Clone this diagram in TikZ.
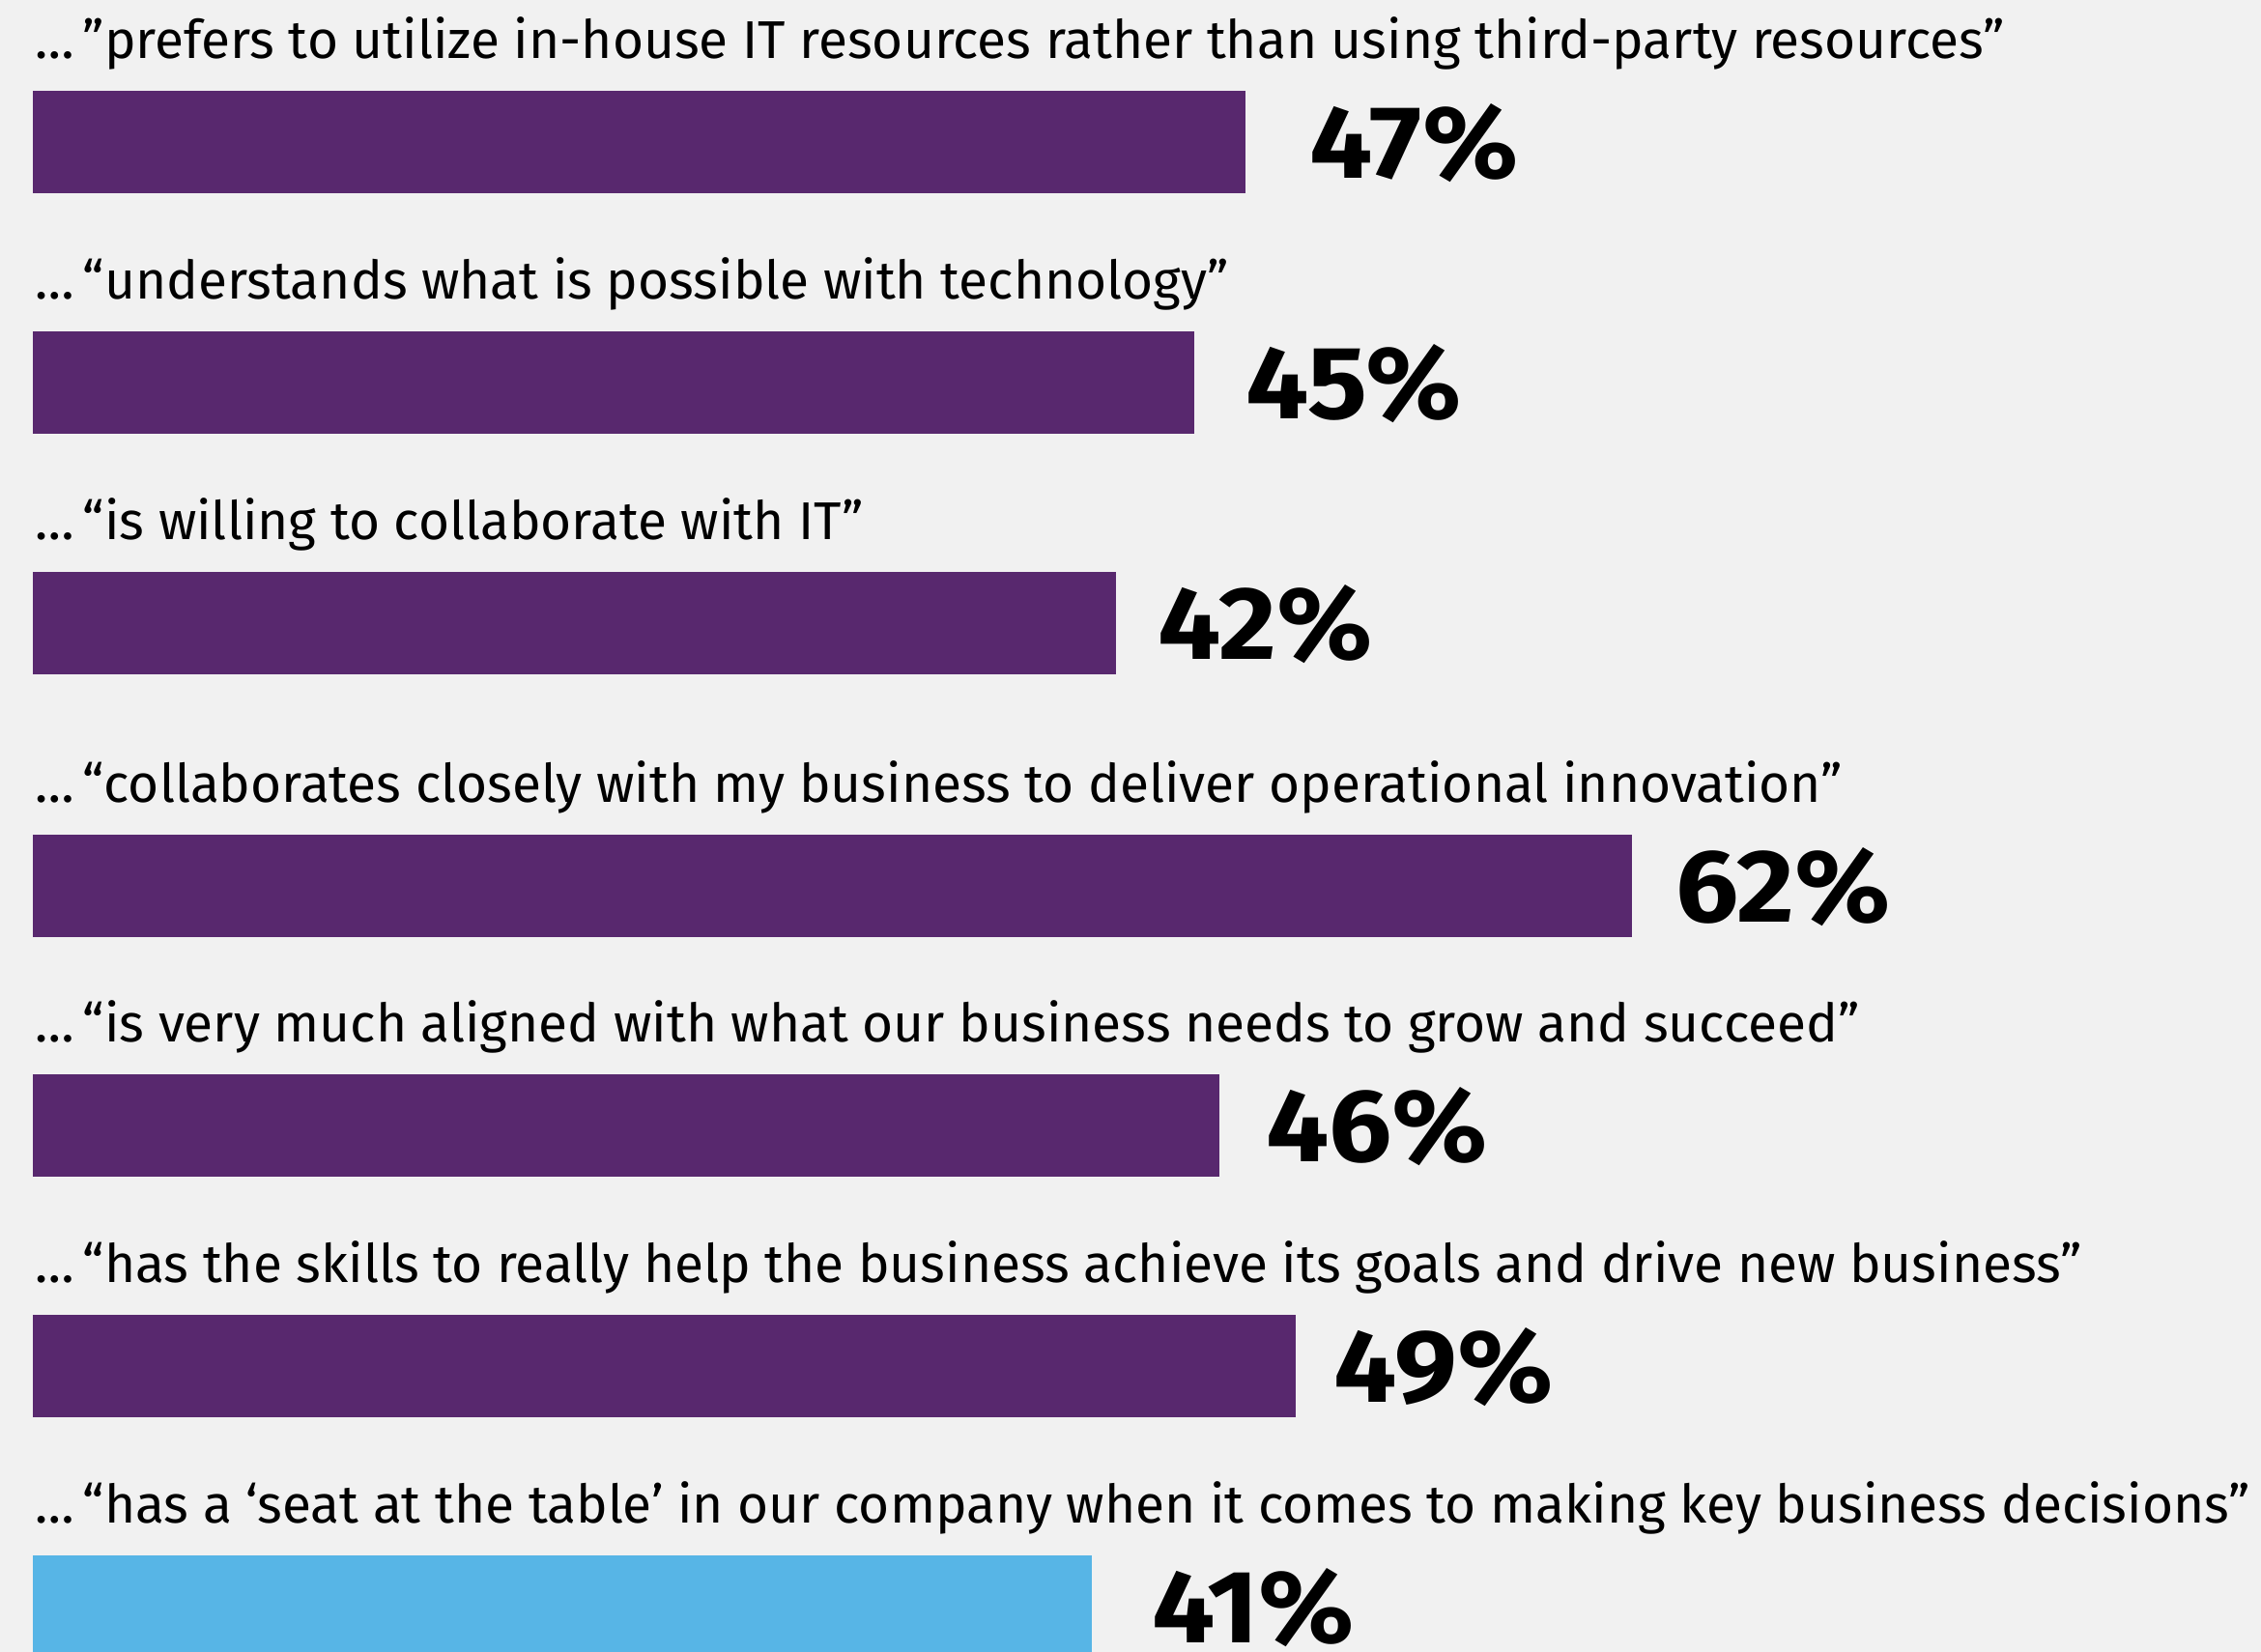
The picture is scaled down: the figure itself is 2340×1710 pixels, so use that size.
\documentclass[tikz,border=0pt]{standalone}
\usepackage{fontspec}
\setmainfont{Fira Sans}
\definecolor{bgc}{HTML}{F1F1F1}
\definecolor{purp}{HTML}{58286E}
\definecolor{sky}{HTML}{57B5E6}
\newcommand{\pctxt}[1]{\scalebox{1.08}[1]{#1}}
\begin{document}
\begin{tikzpicture}[x=1pt,y=-1pt,
  barbox/.style={fill=purp, draw=none, inner sep=0pt, outer sep=0pt, minimum height=106pt, anchor=north west},
  quote/.style={anchor=base west, inner sep=0pt, font=\fontsize{55}{60}\selectfont},
  pct/.style={anchor=base west, inner sep=0pt, font=\fontsize{107}{110}\selectfont\bfseries}]
\fill[bgc] (0,0) rectangle (2340,1710);
\useasboundingbox (0,0) rectangle (2340,1710);
\clip (0,0) rectangle (2340,1710);
% row 1
\node[quote] (q1) at (36,60) {…\,”prefers to utilize in-house IT resources rather than using third-party resources”};
\node[barbox, minimum width=1255pt] (b1) at (34,94) {};
\node[pct] (p1) at (1355,184) {\pctxt{47\%}};
% row 2
\node[quote] (q2) at (36,309) {…\,“understands what is possible with technology”};
\node[barbox, minimum width=1202pt] (b2) at (34,343) {};
\node[pct] (p2) at (1289,433) {\pctxt{45\%}};
% row 3
\node[quote] (q3) at (36,558) {…\,“is willing to collaborate with IT”};
\node[barbox, minimum width=1121pt] (b3) at (34,592) {};
\node[pct] (p3) at (1198,682) {\pctxt{42\%}};
% row 4
\node[quote] (q4) at (36,830) {…\,“collaborates closely with my business to deliver operational innovation”};
\node[barbox, minimum width=1655pt] (b4) at (34,864) {};
\node[pct] (p4) at (1734,954) {\pctxt{62\%}};
% row 5
\node[quote] (q5) at (36,1078) {…\,“is very much aligned with what our business needs to grow and succeed”};
\node[barbox, minimum width=1228pt] (b5) at (34,1112) {};
\node[pct] (p5) at (1310,1202) {\pctxt{46\%}};
% row 6
\node[quote] (q6) at (36,1327) {…\,“has the skills to really help the business achieve its goals and drive new business”};
\node[barbox, minimum width=1307pt] (b6) at (34,1361) {};
\node[pct] (p6) at (1380,1451) {\pctxt{49\%}};
% row 7
\node[quote] (q7) at (36,1576) {…\,“has a ‘seat at the table’ in our company when it comes to making key business decisions”};
\node[barbox, fill=sky, minimum width=1096pt] (b7) at (34,1610) {};
\node[pct] (p7) at (1192,1700) {\pctxt{41\%}};
\end{tikzpicture}
\end{document}
